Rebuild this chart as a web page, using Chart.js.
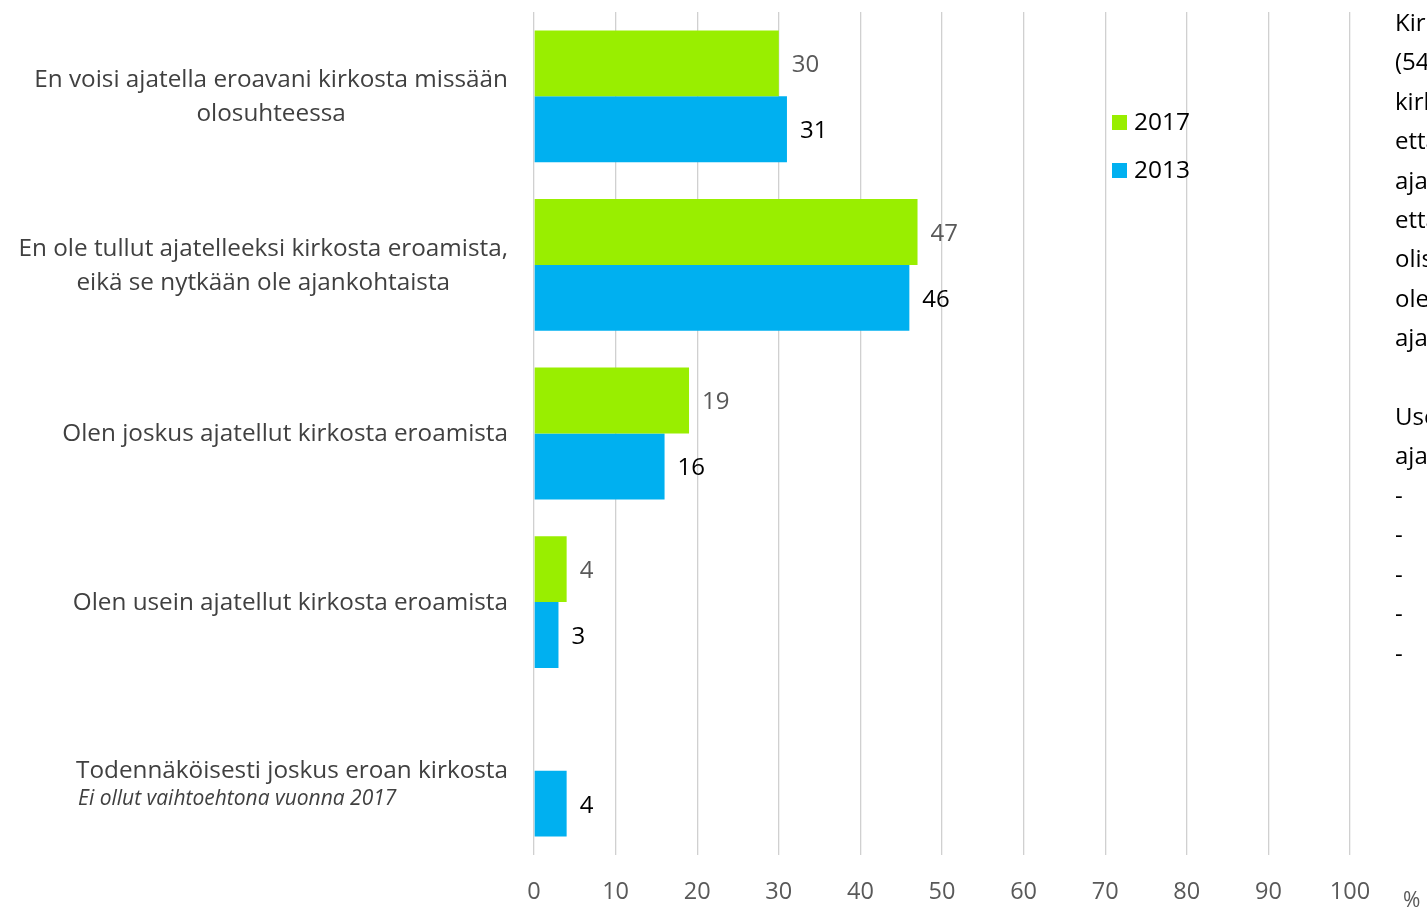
<!DOCTYPE html>
<html>
<head>
<meta charset="utf-8">
<script src="https://cdn.jsdelivr.net/npm/chart.js@4.4.1/dist/chart.umd.min.js"></script>
<style>
    html, body { margin: 0; padding: 0; background: #fff; overflow: hidden; }
    #wrap { position: relative; width: 1427px; height: 909px; overflow: hidden; }
    #side { position: absolute; left: 1395px; top: 2px; width: 400px; font-family: "Open Sans", sans-serif;
            font-size: 24px; line-height: 39.4px; color: #000; white-space: nowrap; }
</style>
</head>
<body>
<div id="wrap">
    <canvas id="chart" width="1427" height="909"></canvas>
    <div id="side">
        Kirkon jäsenistä<br>(54 %)<br>kirkosta<br>että<br>ajatella<br>että<br>olisi<br>ole<br>ajankohtaista<br><br>Useimmin<br>ajateltu<br>-<br>-<br>-<br>-<br>-
    </div>
</div>
<script>
// data
const categories = [
    ['En voisi ajatella eroavani kirkosta missään', 'olosuhteessa'],
    ['En ole tullut ajatelleeksi kirkosta eroamista,', 'eikä se nytkään ole ajankohtaista'],
    ['Olen joskus ajatellut kirkosta eroamista'],
    ['Olen usein ajatellut kirkosta eroamista'],
    ['Todennäköisesti joskus eroan kirkosta']
];
const notes = ['', '', '', '', 'Ei ollut vaihtoehtona vuonna 2017'];
const values2017 = [30, 47, 19, 4, null];
const values2013 = [31, 46, 16, 3, 4];
const xTicks = [0, 10, 20, 30, 40, 50, 60, 70, 80, 90, 100];
const seriesNames = ['2017', '2013'];

const GREEN = '#99EE00';
const BLUE = '#00B0F0';
const FONT = '"Open Sans", sans-serif';

// custom drawing: category labels, value labels, legend, % sign
const extras = {
    id: 'extras',
    afterDraw(chart) {
        let ctx = chart.ctx;
        let y = chart.scales.y;
        ctx.save();

        // category labels - block right aligned at 508, lines centered inside it
        ctx.textBaseline = 'middle';
        categories.forEach((lines, i) => {
            let cy = y.getPixelForValue(i) + 1;
            let lh = 34;
            ctx.font = '24.3px ' + FONT;
            let w = Math.max(...lines.map(t => ctx.measureText(t).width));
            let mid = 508 - w / 2;
            let start = notes[i] ? cy - 1 : cy - (lines.length - 1) * lh / 2;
            ctx.fillStyle = '#404040';
            ctx.textAlign = 'center';
            lines.forEach((t, k) => ctx.fillText(t, mid, start + k * lh));
            if (notes[i]) {
                ctx.font = 'italic 21px ' + FONT;
                ctx.textAlign = 'left';
                ctx.fillText(notes[i], 508 - w + 2, start + 28);
            }
        });

        // value labels
        ctx.textAlign = 'left';
        ctx.font = '24px ' + FONT;
        chart.data.datasets.forEach((ds, di) => {
            let meta = chart.getDatasetMeta(di);
            meta.data.forEach((bar, i) => {
                if (ds.data[i] == null) return;
                ctx.fillStyle = di === 0 ? '#595959' : '#000';
                ctx.fillText(String(ds.data[i]), bar.x + 13, bar.y + 2);
            });
        });

        // legend
        [GREEN, BLUE].forEach((c, k) => {
            let ly = 122 + k * 48;
            ctx.fillStyle = c;
            ctx.fillRect(1112, ly - 7, 15, 15);
            ctx.fillStyle = '#000';
            ctx.font = '24.5px ' + FONT;
            ctx.fillText(seriesNames[k], 1134, ly + 1);
        });

        // percent sign
        ctx.fillStyle = '#595959';
        ctx.font = '21px ' + FONT;
        ctx.textBaseline = 'alphabetic';
        ctx.fillText('%', 1403, 907);
        ctx.restore();
    }
};

let ctx = document.getElementById('chart');
let config = {
    type: 'bar',
    data: {
        labels: categories,
        datasets: [
            { label: seriesNames[0], data: values2017, backgroundColor: GREEN, barPercentage: 1, categoryPercentage: 0.782 },
            { label: seriesNames[1], data: values2013, backgroundColor: BLUE, barPercentage: 1, categoryPercentage: 0.782 }
        ]
    },
    options: {
        indexAxis: 'y',
        responsive: false,
        animation: false,
        layout: { padding: { top: 12, right: 77, left: 0, bottom: 0 } },
        plugins: { legend: { display: false }, tooltip: { enabled: false } },
        scales: {
            x: {
                min: 0,
                max: 100,
                afterBuildTicks: (scale) => { scale.ticks = xTicks.map(v => ({ value: v })); },
                afterFit: (scale) => { scale.height = 54; },
                border: { display: false },
                grid: { color: '#d0d0d0', lineWidth: 1.3, drawTicks: false },
                ticks: { color: '#595959', font: { family: 'Open Sans', size: 23.5 }, padding: 23, maxRotation: 0 }
            },
            y: {
                afterFit: (scale) => { scale.width = 534; },
                border: { display: false },
                grid: { display: false },
                ticks: { display: false }
            }
        }
    },
    plugins: [extras]
};
let barChart = new Chart(ctx, config);
</script>
</body>
</html>
